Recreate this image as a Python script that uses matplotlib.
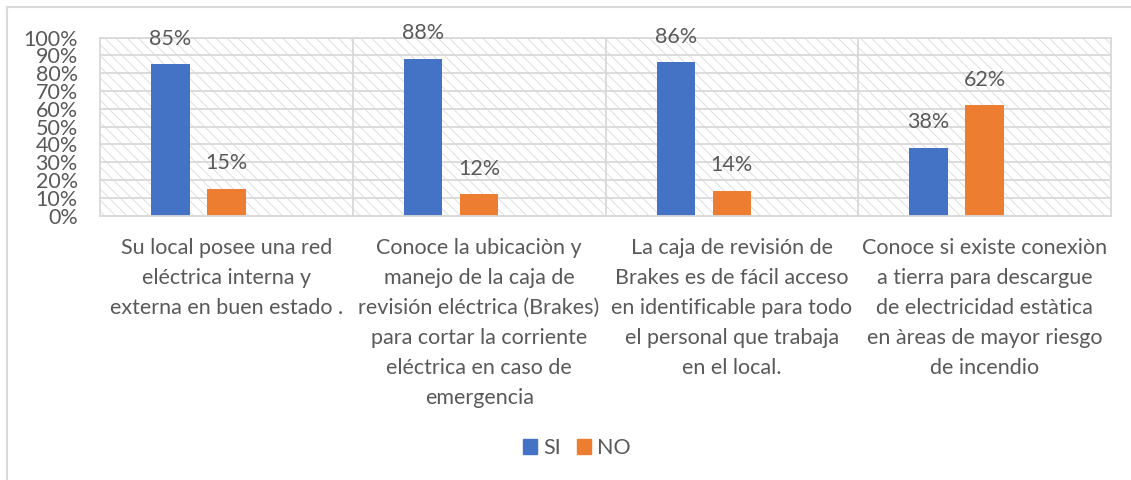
import numpy as np
import matplotlib
matplotlib.use("Agg")
import matplotlib.pyplot as plt
from matplotlib.patches import Rectangle, Patch
from matplotlib.lines import Line2D

# Données
categorias = [
    "Su local posee una red\neléctrica interna y\nexterna en buen estado .",
    "Conoce la ubicaciòn y\nmanejo de la caja de\nrevisión eléctrica (Brakes)\npara cortar la corriente\neléctrica en caso de\nemergencia",
    "La caja de revisión de\nBrakes es de fácil acceso\nen identificable para todo\nel personal que trabaja\nen el local.",
    "Conoce si existe conexiòn\na tierra para descargue\nde electricidad estàtica\nen àreas de mayor riesgo\nde incendio",
]
si = [0.85, 0.88, 0.86, 0.38]
no = [0.15, 0.12, 0.14, 0.62]
series = ["SI", "NO"]
colores = ["#4472C4", "#ED7D31"]

TXT = "#595959"
GRID = "#D9D9D9"
FS = 15.5

plt.rcParams["font.family"] = ["Lato", "DejaVu Sans"]
plt.rcParams["hatch.linewidth"] = 0.6

fig = plt.figure(figsize=(11.31, 4.8), dpi=100)
ax = fig.add_axes([100 / 1131, 1 - 215.7 / 480, 1011 / 1131, 178.2 / 480])

# fond hachuré de la zone de tracé
ax.patch.set_visible(False)
ax.add_patch(Rectangle((0, 0), 1, 1, transform=ax.transAxes, facecolor="white",
                       edgecolor="#DADADA", lw=0, hatch="\\\\\\", zorder=0.1))

x = np.arange(len(categorias))
w = 0.152
off = 0.2216
b1 = ax.bar(x - off, si, w, color=colores[0], zorder=2)
b2 = ax.bar(x, no, w, color=colores[1], zorder=2)

for bars, vals in [(b1, si), (b2, no)]:
    for r, v in zip(bars, vals):
        ax.annotate(f"{v:.0%}", (r.get_x() + r.get_width() / 2, v),
                    xytext=(0, 18.5), textcoords="offset points",
                    ha="center", va="center", fontsize=FS, color=TXT)

ax.set_xlim(-0.5, len(categorias) - 0.5)
ax.set_ylim(0, 1)
ax.set_yticks(np.arange(0, 1.01, 0.1))
ax.set_yticklabels([f"{t:.0f}%" for t in np.arange(0, 101, 10)])
ax.tick_params(axis="y", length=0, pad=16, labelsize=FS, labelcolor=TXT)
ax.set_xticks([])
ax.set_xticks(np.arange(0.5, len(categorias) - 0.5), minor=True)
ax.tick_params(axis="x", which="both", length=0, labelbottom=False)
ax.set_axisbelow(True)
ax.grid(axis="y", which="major", color=GRID, lw=1.3)
ax.grid(axis="x", which="minor", color=GRID, lw=1.3)
for s in ax.spines.values():
    s.set_color(GRID)
    s.set_linewidth(1.3)

for xi, lab in zip(x, categorias):
    ax.text(xi, -0.125, lab, ha="center", va="top", fontsize=FS, color=TXT,
            linespacing=1.62, transform=ax.get_xaxis_transform())

handles = [Patch(color=c, label=s) for c, s in zip(colores, series)]
fig.legend(handles=handles, loc="center", bbox_to_anchor=(577 / 1131, 1 - 448 / 480),
           ncol=2, frameon=False, fontsize=FS, labelcolor=TXT, handlelength=0.66,
           handleheight=0.66, handletextpad=0.3, columnspacing=0.7)

# bordure du graphique
fig.add_artist(Line2D([6.5 / 1131, 6.5 / 1131], [0, 1 - 7 / 480], color=GRID, lw=1.5))
fig.add_artist(Line2D([6.5 / 1131, 1], [1 - 7 / 480, 1 - 7 / 480], color=GRID, lw=1.5))

fig.savefig("out.png", dpi=100)
